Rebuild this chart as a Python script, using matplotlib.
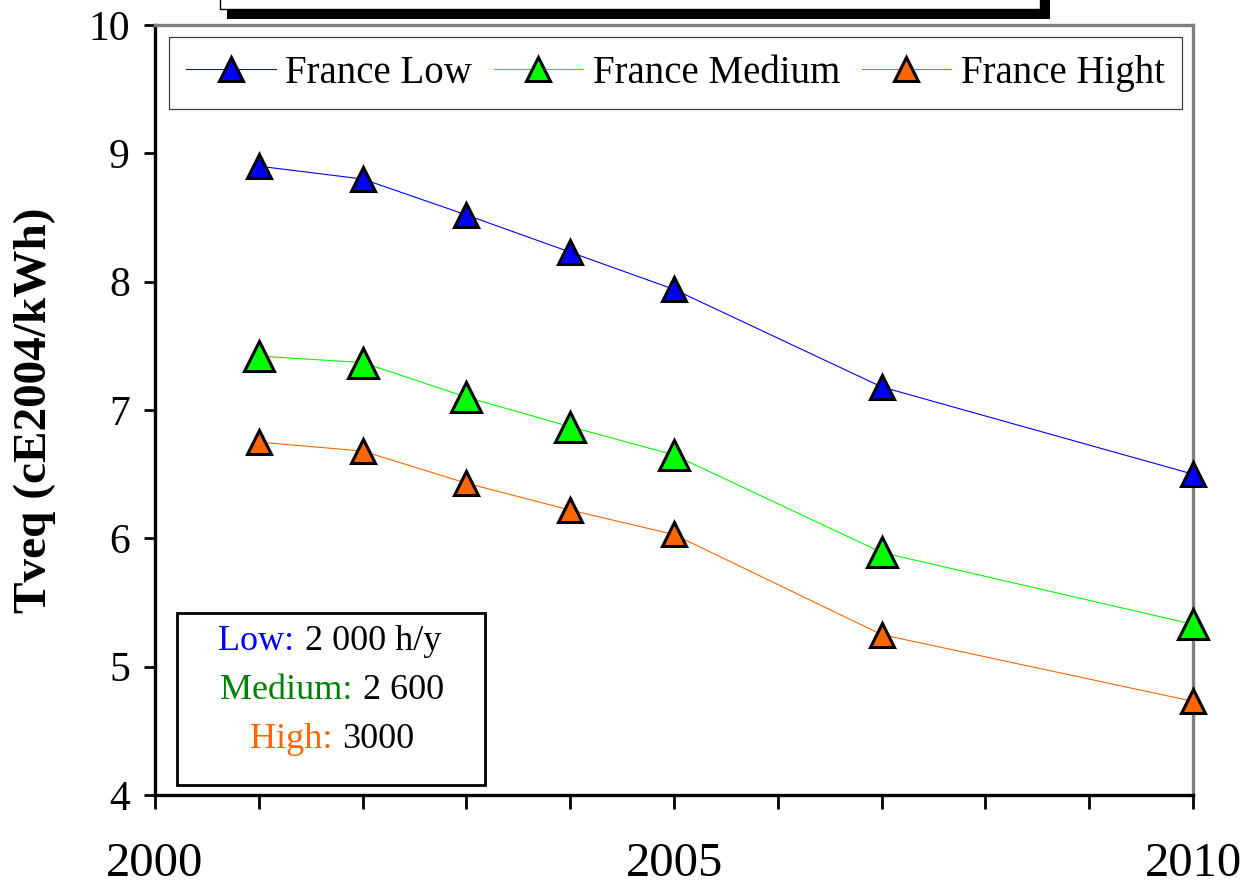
import matplotlib
matplotlib.use('Agg')
import matplotlib.pyplot as plt
from matplotlib.lines import Line2D
from matplotlib.patches import Rectangle

plt.rcParams['font.family'] = ['Liberation Serif', 'DejaVu Serif']

# data
years = [2001, 2002, 2003, 2004, 2005, 2007, 2010]
france_low = [8.90, 8.80, 8.52, 8.23, 7.94, 7.18, 6.50]
france_medium = [7.42, 7.37, 7.10, 6.87, 6.65, 5.89, 5.33]
france_high = [6.75, 6.68, 6.43, 6.22, 6.03, 5.25, 4.73]
series_names = ['France Low', 'France Medium', 'France Hight']
x_ticks = list(range(2000, 2011))
x_tick_labels = ['2000', '', '', '', '', '2005', '', '', '', '', '2010']
y_ticks = [4, 5, 6, 7, 8, 9, 10]

BLUE = '#0000FF'
GREEN = '#00FF00'
ORANGE = '#FF6600'

W, H = 1245, 889
fig = plt.figure(figsize=(W / 100, H / 100), dpi=100)
ax = fig.add_axes([155 / W, 1 - 795 / H, (1193 - 155) / W, 770 / H])


def fy(px):
    return 1 - px / H


# cut-off title box at the very top, with its shadow
fig.patches.append(Rectangle((227 / W, fy(19)), (1050 - 227) / W, 0.05,
                             transform=fig.transFigure, facecolor='black',
                             edgecolor='none', zorder=1))
fig.patches.append(Rectangle((220 / W, fy(9)), (1040 - 220) / W, 0.05,
                             transform=fig.transFigure, facecolor='white',
                             edgecolor='black', linewidth=1, zorder=2))

styles = [(france_low, BLUE, 17), (france_medium, GREEN, 21), (france_high, ORANGE, 17)]
for (vals, col, ms) in styles:
    ax.plot(years, vals, color=col, linewidth=0.8, marker='^', markersize=ms,
            markerfacecolor=col, markeredgecolor='black', markeredgewidth=2.2,
            zorder=3, clip_on=False)

ax.set_xlim(2000, 2010)
ax.set_ylim(4, 10)
ax.set_xticks(x_ticks)
ax.set_xticklabels(x_tick_labels)
ax.set_yticks(y_ticks)
ax.tick_params(axis='x', direction='out', length=10, width=2, pad=24, labelsize=35)
ax.tick_params(axis='y', direction='out', length=8, width=2, pad=10, labelsize=30)

for side in ['left', 'bottom']:
    ax.spines[side].set_linewidth(2.4)
    ax.spines[side].set_color('black')
for side in ['top', 'right']:
    ax.spines[side].set_linewidth(2.4)
    ax.spines[side].set_color('#808080')

fig.text(35 / W, fy(410), 'Tveq (cE2004/kWh)', rotation=90, ha='center',
         va='center', fontsize=34, fontweight='bold')

handles = [Line2D([], [], color=c, linewidth=0.8, marker='^', markersize=17,
                  markerfacecolor=c, markeredgecolor='black', markeredgewidth=2.2)
           for c in [BLUE, GREEN, ORANGE]]
leg = ax.legend(handles, series_names, loc='upper center', ncol=3,
                bbox_to_anchor=(0.5014, 0.9844), borderaxespad=0, fontsize=28,
                handlelength=2.3, handletextpad=0.25, columnspacing=0.55,
                borderpad=0.45, fancybox=False, framealpha=1, numpoints=1)
leg.get_frame().set_edgecolor('#404040')
leg.get_frame().set_linewidth(0.9)

# note box, bottom left
ax.add_patch(Rectangle((0.0212, 0.013), 0.318 - 0.0212, 0.2364 - 0.013,
                       transform=ax.transAxes, facecolor='white',
                       edgecolor='black', linewidth=2, zorder=4))
notes = [('Low:', '2 000 h/y', BLUE, 0.1883, 0.1339, 0.1445),
         ('Medium:', '2 600', '#008000', 0.1247, 0.1898, 0.2004),
         ('High:', '3000', ORANGE, 0.0610, 0.1705, 0.1802)]
for (lab, val, col, yb, xr, xl) in notes:
    ax.text(xr, yb, lab, color=col, ha='right', va='baseline', fontsize=26,
            transform=ax.transAxes, zorder=5)
    ax.text(xl, yb, val, color='black', ha='left', va='baseline', fontsize=26,
            transform=ax.transAxes, zorder=5)

fig.savefig('out.png', dpi=100)
